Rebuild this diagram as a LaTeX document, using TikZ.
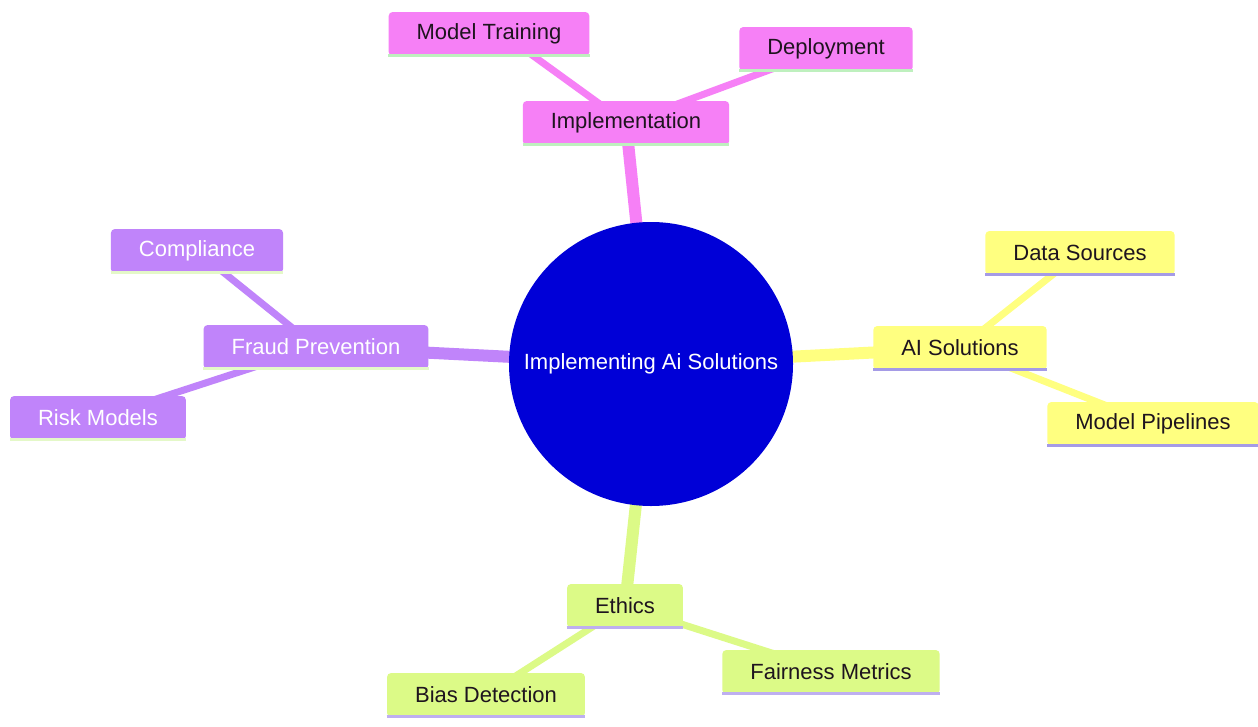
\documentclass[tikz,border=0pt]{standalone}
\usepackage{fontspec}
\setmainfont{Liberation Sans}
\usetikzlibrary{backgrounds}
\definecolor{pinkc}{RGB}{246,128,246}
\definecolor{pinkb}{RGB}{190,240,190}
\definecolor{purpc}{RGB}{192,132,250}
\definecolor{purpb}{RGB}{228,248,200}
\definecolor{yelc}{RGB}{255,255,128}
\definecolor{yelb}{RGB}{165,155,230}
\definecolor{grnc}{RGB}{220,250,135}
\definecolor{grnb}{RGB}{190,175,240}
\definecolor{rootc}{RGB}{0,0,215}
\definecolor{txt}{RGB}{30,20,30}
\begin{document}
\begin{tikzpicture}[x=1pt,y=-1pt,
  leaf/.style={rectangle, rounded corners=4pt, minimum height=44pt, inner xsep=28pt,
    font=\fontsize{22}{26}\selectfont, text=txt},
  pinkbox/.style={leaf, fill=pinkc},
  purpbox/.style={leaf, fill=purpc, text=white},
  yelbox/.style={leaf, fill=yelc},
  grnbox/.style={leaf, fill=grnc},
  rootnode/.style={circle, fill=rootc, minimum size=284pt, inner sep=0pt, text=white,
    font=\fontsize{22}{26}\selectfont},
  rootedge/.style={line width=12pt},
  subedge/.style={line width=7pt},
  bline/.style={line width=3pt}]
\useasboundingbox (0,0) rectangle (1258,726);
\node[rootnode] (root) at (651,364) {Implementing Ai Solutions};
\node[pinkbox] (impl) at (626,123) {Implementation};
\node[pinkbox] (mt) at (489,34) {Model Training};
\node[pinkbox] (dep) at (826,49) {Deployment};
\node[purpbox] (fp) at (316,347) {Fraud Prevention};
\node[purpbox] (comp) at (197,251) {Compliance};
\node[purpbox] (risk) at (98,418) {Risk Models};
\node[yelbox] (ai) at (960,348) {AI Solutions};
\node[yelbox] (ds) at (1080,253) {Data Sources};
\node[yelbox] (mp) at (1153,424) {Model Pipelines};
\node[grnbox] (eth) at (625,606) {Ethics};
\node[grnbox] (bias) at (486,695) {Bias Detection};
\node[grnbox] (fair) at (831,672) {Fairness Metrics};
\foreach \n in {impl,mt,dep} \draw[bline, pinkb] ([yshift=1pt]\n.south west) -- ([yshift=1pt]\n.south east);
\foreach \n in {fp,comp,risk} \draw[bline, purpb] ([yshift=1pt]\n.south west) -- ([yshift=1pt]\n.south east);
\foreach \n in {ai,ds,mp} \draw[bline, yelb] ([yshift=1pt]\n.south west) -- ([yshift=1pt]\n.south east);
\foreach \n in {eth,bias,fair} \draw[bline, grnb] ([yshift=1pt]\n.south west) -- ([yshift=1pt]\n.south east);
\begin{scope}[on background layer]
\fill[white] (0,0) rectangle (1258,726);
\draw[rootedge, pinkc] (root.center) -- (impl.center);
\draw[rootedge, purpc] (root.center) -- (fp.center);
\draw[rootedge, yelc] (root.center) -- (ai.center);
\draw[rootedge, grnc] (root.center) -- (eth.center);
\draw[subedge, pinkc] (impl.center) -- ([xshift=14pt]mt.center);
\draw[subedge, pinkc] (impl.center) -- (dep.center);
\draw[subedge, purpc] (fp.center) -- (comp.center);
\draw[subedge, purpc] (fp.center) -- (risk.center);
\draw[subedge, yelc] (ai.center) -- (ds.center);
\draw[subedge, yelc] (ai.center) -- (mp.center);
\draw[subedge, grnc] (eth.center) -- (bias.center);
\draw[subedge, grnc] (eth.center) -- (fair.center);
\end{scope}
\end{tikzpicture}
\end{document}
